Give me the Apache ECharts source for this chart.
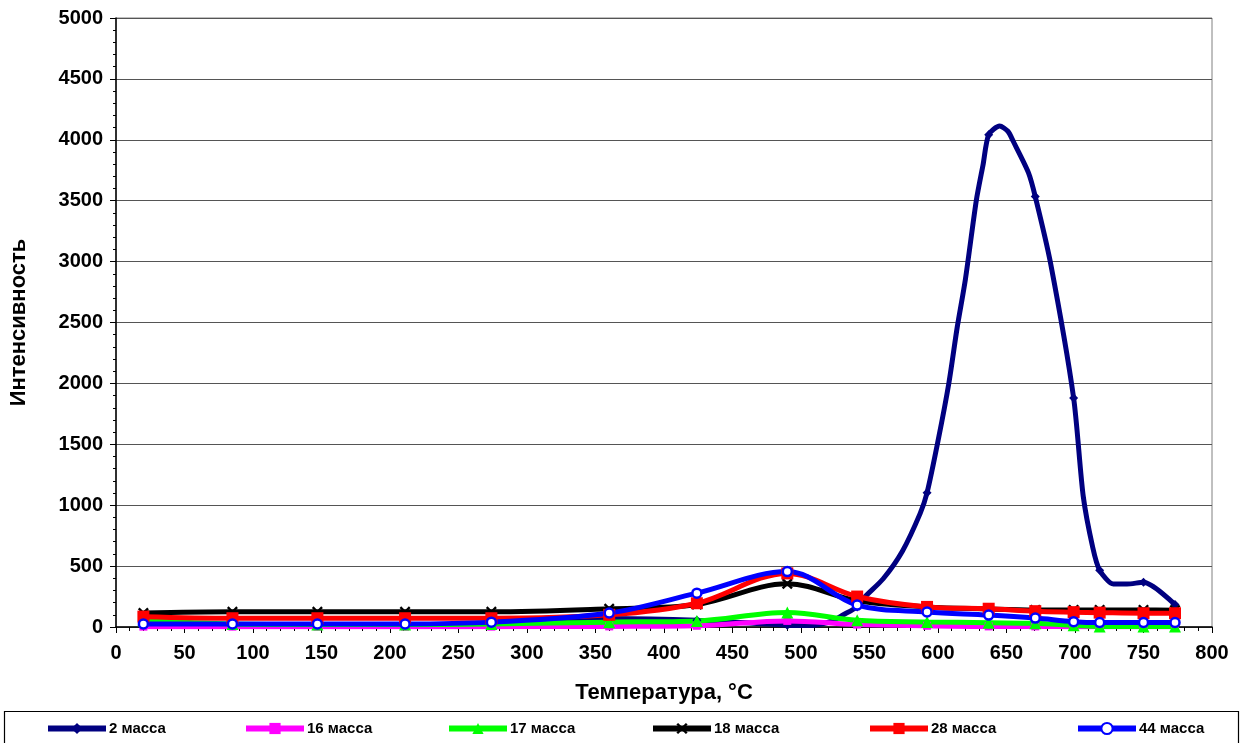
<!DOCTYPE html>
<html>
<head>
<meta charset="utf-8">
<script src="https://cdn.jsdelivr.net/npm/echarts@6/dist/echarts.min.js"></script>
<style>
  html, body { margin: 0; padding: 0; background: #fff; }
  #chart { width: 1240px; height: 743px; }
</style>
</head>
<body>
<div id="chart"></div>
<script>
// Measurement temperatures (°C) shared by the mass channels
const temps = [20, 85, 147, 211, 274, 360, 424, 490, 541, 592, 637, 671, 699, 718, 750, 773];

// Intensity per mass channel at the measurement temperatures
const mass16 = [3, 3, 3, 3, 3, 5, 10, 50, 20, 10, 5, 5, 3, 3, 3, 3];
const mass17 = [55, 25, 20, 20, 25, 40, 50, 120, 55, 42, 35, 30, 14, 5, 5, 5];
const mass18 = [115, 125, 125, 125, 125, 150, 185, 355, 215, 165, 148, 140, 140, 140, 140, 138];
const mass28 = [85, 72, 72, 72, 72, 100, 195, 440, 250, 165, 150, 130, 122, 118, 113, 113];
const mass44 = [25, 25, 25, 25, 40, 115, 278, 455, 180, 123, 98, 73, 44, 37, 37, 37];

// Mass 2 is traced more densely; markers only at the measurement temperatures
const mass2T = [20, 85, 147, 211, 274, 360, 424, 490, 505, 515, 523, 530, 541, 546, 560, 574, 587, 592, 600, 608, 614, 620, 628, 633, 637, 645, 651, 655, 666, 671, 682, 699, 706, 713, 718, 728, 738, 750, 773];
const mass2V = [10, 10, 10, 10, 35, 70, 55, 15, 12, 25, 50, 95, 165, 240, 396, 622, 933, 1102, 1527, 2007, 2459, 2855, 3505, 3802, 4042, 4113, 4070, 3986, 3731, 3534, 2996, 1880, 1074, 650, 466, 353, 353, 367, 184];

const xTicks = { min: 0, max: 800, step: 50 };
const yTicks = { min: 0, max: 5000, step: 500 };

const FONT = 'Arial, "Liberation Sans", sans-serif';

const pairs = (xs, ys) => xs.map((x, i) => [x, ys[i]]);

// Filled "x" glyph for the mass 18 markers
const crossPath = 'path://M0,1.5L1.5,0L5,3.5L8.5,0L10,1.5L6.5,5L10,8.5L8.5,10L5,6.5L1.5,10L0,8.5L3.5,5Z';

function lineSeries(name, data, color, symbol, size, extra) {
  return Object.assign({
    name: name,
    type: 'line',
    data: data,
    smooth: 0.35,
    symbol: symbol,
    symbolSize: size,
    showSymbol: true,
    lineStyle: { color: color, width: 5 },
    itemStyle: { color: color, borderWidth: 0 },
    emphasis: { disabled: true },
    animation: false
  }, extra || {});
}

// Mass 2: diamonds only at the measurement temperatures
const mass2Data = mass2T.map((t, i) => temps.includes(t)
  ? [t, mass2V[i]]
  : { value: [t, mass2V[i]], symbol: 'none' });

const series = [
  lineSeries('2 масса', mass2Data, '#000080', 'diamond', 9, { smooth: 0.25 }),
  lineSeries('16 масса', pairs(temps, mass16), '#FF00FF', 'rect', 8),
  lineSeries('17 масса', pairs(temps, mass17), '#00FF00', 'triangle', 12),
  lineSeries('18 масса', pairs(temps, mass18), '#000000', crossPath, 11),
  lineSeries('28 масса', pairs(temps, mass28), '#FF0000', 'rect', 12),
  lineSeries('44 масса', pairs(temps, mass44), '#0000FF', 'circle', 9,
    { itemStyle: { color: '#FFFFFF', borderColor: '#0000FF', borderWidth: 2.5 } })
];

// One legend block per entry, spread across the framed strip at the bottom
const legendLeft = [40, 238, 441, 645, 862, 1070];
const legends = series.map((s, i) => ({
  data: [s.name],
  left: legendLeft[i],
  top: 716,
  itemWidth: 58,
  itemHeight: 14,
  itemGap: 4,
  selectedMode: false,
  lineStyle: { width: 6 },
  textStyle: { fontFamily: FONT, fontWeight: 'bold', fontSize: 15, color: '#000', padding: [0, 0, 0, -2] }
}));

const chart = echarts.init(document.getElementById('chart'), null, { renderer: 'canvas' });
chart.setOption({
  backgroundColor: '#ffffff',
  animation: false,
  grid: {
    left: 116, right: 28, top: 18, bottom: 116,
    outerBoundsMode: 'none',
    containLabel: false,
    show: true, borderColor: '#808080', borderWidth: 1
  },
  legend: legends,
  xAxis: {
    type: 'value',
    min: xTicks.min, max: xTicks.max, interval: xTicks.step,
    name: 'Температура, °C',
    nameLocation: 'middle',
    nameGap: 55,
    nameTextStyle: { fontFamily: FONT, fontWeight: 'bold', fontSize: 22, color: '#000' },
    axisLine: { lineStyle: { color: '#000', width: 1.5 } },
    axisTick: { show: true, inside: false, length: 6, lineStyle: { color: '#000' } },
    minorTick: { show: true, splitNumber: 5, length: 4, lineStyle: { color: '#000' } },
    axisLabel: { fontFamily: FONT, fontWeight: 'bold', fontSize: 20, color: '#000', margin: 16,
      formatter: (v) => String(v) },
    splitLine: { show: false }
  },
  yAxis: {
    type: 'value',
    min: yTicks.min, max: yTicks.max, interval: yTicks.step,
    name: 'Интенсивность',
    nameLocation: 'middle',
    nameGap: 86,
    nameTextStyle: { fontFamily: FONT, fontWeight: 'bold', fontSize: 22, color: '#000' },
    axisLine: { show: true, lineStyle: { color: '#000', width: 1.5 } },
    axisTick: { show: true, inside: false, length: 6, lineStyle: { color: '#000' } },
    minorTick: { show: true, splitNumber: 5, length: 3, lineStyle: { color: '#000' } },
    axisLabel: { fontFamily: FONT, fontWeight: 'bold', fontSize: 20, color: '#000', margin: 13,
      formatter: (v) => String(v) },
    splitLine: { show: true, lineStyle: { color: '#555', width: 1 } }
  },
  graphic: [{
    type: 'rect',
    left: 2, top: 709,
    shape: { width: 1234, height: 32 },
    style: { fill: 'none', stroke: '#000', lineWidth: 1.2 },
    z: -1
  }],
  series: series
});
</script>
</body>
</html>
